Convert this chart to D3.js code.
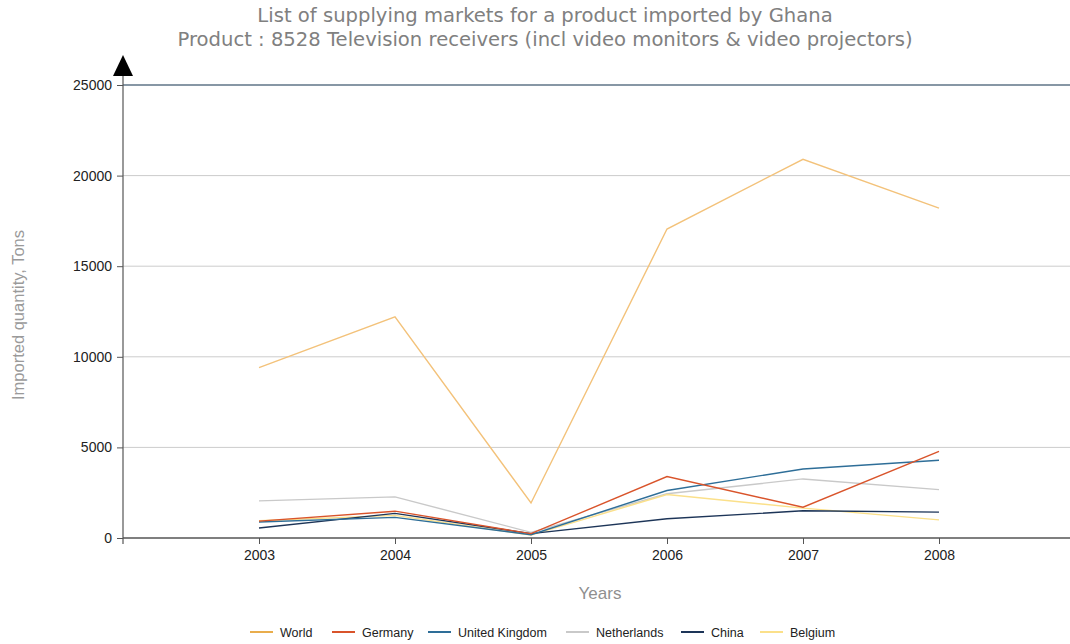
<!DOCTYPE html>
<html lang="en">
<head>
<meta charset="UTF-8">
<title>Ghana TV imports</title>
<style>
  body { margin: 0; background: #fff; }
  .line { fill: none; stroke-width: 1.4px; }
  .tick text { font-family: "Liberation Sans", Arial, sans-serif; font-size: 14px; fill: #222; }
</style>
</head>
<body>
<svg width="1070" height="644"></svg>
<script src="https://cdnjs.cloudflare.com/ajax/libs/d3/7.8.5/d3.min.js"></script>
<script>
var years = [2003, 2004, 2005, 2006, 2007, 2008];
var seriesNames = ["World", "Germany", "United Kingdom", "Netherlands", "China", "Belgium"];
var seriesColors = ["#f3c27a", "#d9542b", "#2e6e98", "#c9c9c9", "#1d3558", "#fbe08a"];
var world = [9400, 12200, 1930, 17050, 20900, 18200];
var germany = [930, 1480, 240, 3390, 1700, 4780];
var unitedKingdom = [880, 1140, 180, 2620, 3810, 4290];
var netherlands = [2050, 2270, 310, 2440, 3260, 2670];
var china = [550, 1360, 240, 1060, 1500, 1430];
var belgium = [950, 1250, 160, 2400, 1650, 1000];
var yTicks = [0, 5000, 10000, 15000, 20000, 25000];

var seriesValues = [world, germany, unitedKingdom, netherlands, china, belgium];

var svg = d3.select("svg"),
    plotLeft = 123, plotBottom = 538, plotTop = 85, plotRight = 1070;

var x = d3.scaleLinear().domain([2002, 2009]).range([plotLeft, 1075]),
    y = d3.scaleLinear().domain([0, 25000]).range([plotBottom, plotTop]);

// titles
var title = svg.append("g")
    .attr("font-family", "'DejaVu Sans', Verdana, sans-serif")
    .attr("font-size", "19.6px")
    .attr("fill", "#808080")
    .attr("text-anchor", "middle");
title.append("text").attr("x", 545).attr("y", 22)
    .text("List of supplying markets for a product imported by Ghana");
title.append("text").attr("x", 545).attr("y", 46)
    .text("Product : 8528 Television receivers (incl video monitors & video projectors)");

// gridlines
svg.append("g").selectAll("line")
    .data(yTicks.filter(function (d) { return d > 0; }))
    .enter().append("line")
    .attr("x1", plotLeft).attr("x2", plotRight)
    .attr("y1", function (d) { return y(d); })
    .attr("y2", function (d) { return y(d); })
    .attr("stroke", function (d) { return d === 25000 ? "#5f7587" : "#cccccc"; })
    .attr("stroke-width", function (d) { return d === 25000 ? 1.5 : 1; });

// y axis
var yAxis = svg.append("g")
    .attr("transform", "translate(" + plotLeft + ",0)")
    .call(d3.axisLeft(y).tickValues(yTicks).tickSize(6).tickSizeOuter(0).tickFormat(d3.format("d")));
yAxis.select(".domain").remove();
yAxis.selectAll(".tick line").attr("stroke", "#555");
yAxis.selectAll(".tick text").attr("x", -11);

svg.append("line")
    .attr("x1", plotLeft).attr("x2", plotLeft)
    .attr("y1", 70).attr("y2", plotBottom + 6)
    .attr("stroke", "#555").attr("stroke-width", 1.2);
svg.append("path")
    .attr("d", "M" + plotLeft + ",55 L" + (plotLeft + 10) + ",76 L" + (plotLeft - 10) + ",76 Z")
    .attr("fill", "#000");

// x axis
var xAxis = svg.append("g")
    .attr("transform", "translate(0," + plotBottom + ")")
    .call(d3.axisBottom(x).tickValues(years).tickSize(6).tickSizeOuter(0).tickFormat(d3.format("d")));
xAxis.select(".domain").remove();
xAxis.selectAll(".tick line").attr("stroke", "#555");
xAxis.selectAll(".tick text").attr("dy", "0.95em");
svg.append("line")
    .attr("x1", plotLeft).attr("x2", plotRight)
    .attr("y1", plotBottom).attr("y2", plotBottom)
    .attr("stroke", "#555").attr("stroke-width", 1.5);

// axis labels
svg.append("text")
    .attr("x", 600).attr("y", 599)
    .attr("text-anchor", "middle")
    .attr("font-family", "'Liberation Sans', Arial, sans-serif")
    .attr("font-size", "17px").attr("fill", "#8f8f8f")
    .text("Years");
svg.append("text")
    .attr("transform", "translate(24,315) rotate(-90)")
    .attr("text-anchor", "middle")
    .attr("font-family", "'Liberation Sans', Arial, sans-serif")
    .attr("font-size", "16.5px").attr("fill", "#9a9a9a")
    .text("Imported quantity, Tons");

// lines
var line = d3.line()
    .x(function (d, i) { return x(years[i]); })
    .y(function (d) { return y(d); });

var order = [3, 5, 4, 2, 1, 0];
order.forEach(function (k) {
    svg.append("path")
        .datum(seriesValues[k])
        .attr("class", "line")
        .attr("stroke", seriesColors[k])
        .attr("d", line);
});

// legend
var legendX = [250, 332, 428, 566, 681, 760];
var legend = svg.append("g")
    .attr("font-family", "'Liberation Sans', Arial, sans-serif")
    .attr("font-size", "12.5px").attr("fill", "#222");
seriesNames.forEach(function (name, i) {
    var g = legend.append("g").attr("transform", "translate(" + legendX[i] + ",632)");
    g.append("line").attr("x1", 0).attr("x2", 23).attr("y1", 0).attr("y2", 0)
        .attr("stroke", i === 0 ? "#e9ad4c" : seriesColors[i]).attr("stroke-width", 2);
    g.append("text").attr("x", 30).attr("y", 4.5).text(name);
});
</script>
</body>
</html>
